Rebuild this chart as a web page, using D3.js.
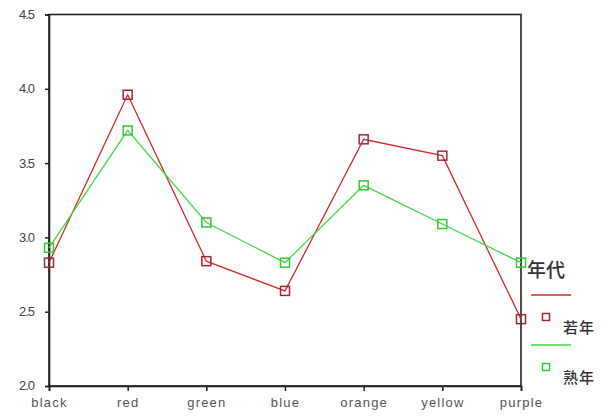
<!DOCTYPE html>
<html>
<head>
<meta charset="utf-8">
<script src="https://cdn.jsdelivr.net/npm/d3@7"></script>
<style>
body{margin:0;background:#fff;}
svg{display:block;font-family:"DejaVu Sans",Verdana,sans-serif;}
</style>
</head>
<body>
<svg id="chart" width="608" height="419"></svg>
<script>
const categories = ["black","red","green","blue","orange","yellow","purple"];
const seriesNames = ["若年","熟年"];
const young = [2.83,3.96,2.84,2.64,3.66,3.55,2.45];
const mature = [2.93,3.72,3.10,2.83,3.35,3.09,2.83];
const yTicks = [2.0,2.5,3.0,3.5,4.0,4.5];
const legendTitle = "年代";

const svg = d3.select("#chart");
const x = d3.scalePoint().domain(categories).range([49,521]).padding(0);
const y = d3.scaleLinear().domain([2.0,4.5]).range([386,14.5]);
const axisColor = "#222";

// frame
svg.append("rect").attr("x",49).attr("y",14.5).attr("width",472).attr("height",371.5)
  .attr("fill","none").attr("stroke",axisColor).attr("stroke-width",1.6);

const yAxis = svg.append("g").attr("transform","translate(49,0)")
  .call(d3.axisLeft(y).tickValues(yTicks).tickFormat(d3.format(".1f")).tickSize(4).tickPadding(11));
yAxis.select(".domain").attr("stroke",axisColor).attr("stroke-width",1.6);
yAxis.selectAll(".tick line").attr("stroke",axisColor).attr("stroke-width",1.5);
yAxis.selectAll(".tick text").attr("fill","#444").attr("font-size",13).attr("dy","0.3em").style("letter-spacing","-1px");

const xAxis = svg.append("g").attr("transform","translate(0,386)")
  .call(d3.axisBottom(x).tickSize(5).tickPadding(7));
xAxis.select(".domain").attr("stroke",axisColor).attr("stroke-width",1.6);
xAxis.selectAll(".tick line").attr("stroke",axisColor).attr("stroke-width",1.5);
xAxis.selectAll(".tick text").attr("fill","#555").attr("font-size",13).style("letter-spacing","1.2px");

const series = [
  {name:seriesNames[0], values:young, line:"#d42a2a", marker:"#a8283a"},
  {name:seriesNames[1], values:mature, line:"#44d844", marker:"#33cc33"}
];
const line = d3.line().x((d,i)=>x(categories[i])).y(d=>y(d));
series.forEach(s=>{
  svg.append("path").datum(s.values).attr("d",line).attr("fill","none")
    .attr("stroke",s.line).attr("stroke-width",1.3);
});
series.forEach(s=>{
  svg.append("g").selectAll("rect").data(s.values).join("rect")
    .attr("x",(d,i)=>x(categories[i])-4.5).attr("y",d=>y(d)-4.5)
    .attr("width",9).attr("height",9).attr("fill","none")
    .attr("stroke",s.marker).attr("stroke-width",1.5);
});

// legend
const lg = svg.append("g");
lg.append("text").attr("x",527).attr("y",277).text(legendTitle)
  .attr("font-family","Noto Sans CJK JP").attr("font-size",19).attr("font-weight",500).attr("fill","#333");
series.forEach((s,i)=>{
  const oy = 295 + i*50;
  lg.append("line").attr("x1",531).attr("x2",571).attr("y1",oy).attr("y2",oy)
    .attr("stroke",s.line).attr("stroke-width",1.5);
  lg.append("rect").attr("x",542.5).attr("y",oy+18.5).attr("width",7).attr("height",7)
    .attr("fill","none").attr("stroke",s.marker).attr("stroke-width",1.5);
  lg.append("text").attr("x",563).attr("y",oy+38).text(s.name)
    .attr("font-family","Noto Sans CJK JP").attr("font-size",15).attr("font-weight",500).attr("fill","#333")
    .style("letter-spacing","1px");
});
</script>
</body>
</html>
